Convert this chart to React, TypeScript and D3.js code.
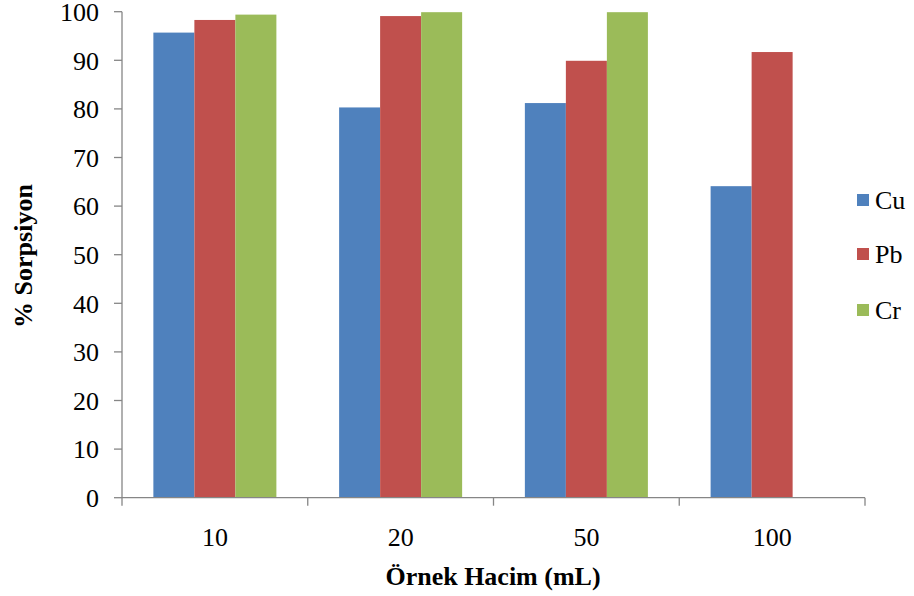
import React, { useEffect, useRef } from 'react';
import * as d3 from 'd3';

// chart data
const categories = ['10', '20', '50', '100'];
const seriesNames = ['Cu', 'Pb', 'Cr'];
const cuValues = [95.7, 80.3, 81.2, 64.1];
const pbValues = [98.3, 99.1, 89.9, 91.7];
const crValues = [99.4, 99.9, 99.9, null];
const yTicks = [0, 10, 20, 30, 40, 50, 60, 70, 80, 90, 100];
const colors = ['#4F81BD', '#C0504D', '#9BBB59'];

const FONT = 'Liberation Serif';

const App = () => {
  const svgRef = useRef<SVGSVGElement>(null);

  useEffect(() => {
    const svg = d3.select(svgRef.current);
    svg.selectAll('*').remove();

    const width = 914;
    const height = 596;
    const left = 122;
    const right = 865;
    const top = 11.7;
    const bottom = 497.7;
    const axisColor = '#868686';

    const series = [cuValues, pbValues, crValues];

    const x = d3.scaleBand().domain(categories).range([left, right]).paddingInner(0).paddingOuter(0);
    const xSub = d3
      .scaleBand()
      .domain(seriesNames)
      .range([0, x.bandwidth()])
      .paddingInner(0)
      .paddingOuter(0.765);
    const y = d3.scaleLinear().domain([0, 100]).range([bottom, top]);

    svg.attr('width', width).attr('height', height);

    // bars
    seriesNames.forEach((name, si) => {
      svg
        .append('g')
        .selectAll('rect')
        .data(categories.map((c, i) => ({ c, v: series[si][i] })).filter((d) => d.v != null))
        .join('rect')
        .attr('x', (d) => (x(d.c) as number) + (xSub(name) as number))
        .attr('y', (d) => y(d.v as number))
        .attr('width', xSub.bandwidth())
        .attr('height', (d) => bottom - y(d.v as number))
        .attr('fill', colors[si]);
    });

    // y axis
    const gy = svg.append('g');
    gy.append('line')
      .attr('x1', left).attr('x2', left)
      .attr('y1', top).attr('y2', bottom)
      .attr('stroke', axisColor).attr('stroke-width', 1.3);
    gy.selectAll('line.tick')
      .data(yTicks)
      .join('line')
      .attr('class', 'tick')
      .attr('x1', left - 8).attr('x2', left)
      .attr('y1', (d) => y(d)).attr('y2', (d) => y(d))
      .attr('stroke', axisColor).attr('stroke-width', 1.3);
    gy.selectAll('text')
      .data(yTicks)
      .join('text')
      .attr('x', left - 23)
      .attr('y', (d) => y(d))
      .attr('dy', '0.36em')
      .attr('text-anchor', 'end')
      .attr('font-family', FONT)
      .attr('font-size', 26)
      .attr('fill', '#000')
      .text((d) => d);

    // x axis
    const gx = svg.append('g');
    gx.append('line')
      .attr('x1', left).attr('x2', right)
      .attr('y1', bottom).attr('y2', bottom)
      .attr('stroke', axisColor).attr('stroke-width', 1.3);
    const xTickPos = categories.map((c) => x(c) as number).concat([right]);
    gx.selectAll('line.tick')
      .data(xTickPos)
      .join('line')
      .attr('class', 'tick')
      .attr('x1', (d) => d).attr('x2', (d) => d)
      .attr('y1', bottom).attr('y2', bottom + 8)
      .attr('stroke', axisColor).attr('stroke-width', 1.3);
    gx.selectAll('text')
      .data(categories)
      .join('text')
      .attr('x', (d) => (x(d) as number) + x.bandwidth() / 2)
      .attr('y', 546)
      .attr('text-anchor', 'middle')
      .attr('font-family', FONT)
      .attr('font-size', 26)
      .attr('fill', '#000')
      .text((d) => d);

    // axis titles
    svg.append('text')
      .attr('x', 493)
      .attr('y', 585)
      .attr('text-anchor', 'middle')
      .attr('font-family', FONT)
      .attr('font-weight', 'bold')
      .attr('font-size', 26)
      .text('Örnek Hacim (mL)');
    svg.append('text')
      .attr('transform', 'translate(32,256) rotate(-90)')
      .attr('text-anchor', 'middle')
      .attr('font-family', FONT)
      .attr('font-weight', 'bold')
      .attr('font-size', 26)
      .text('% Sorpsiyon');

    // legend
    const legendY = [200, 254, 310];
    const lg = svg.append('g');
    seriesNames.forEach((name, i) => {
      lg.append('rect')
        .attr('x', 857).attr('y', legendY[i] - 6)
        .attr('width', 12).attr('height', 12)
        .attr('fill', colors[i]);
      lg.append('text')
        .attr('x', 875).attr('y', legendY[i])
        .attr('dy', '0.36em')
        .attr('font-family', FONT)
        .attr('font-size', 26)
        .text(name);
    });
  }, []);

  return <svg ref={svgRef} style={{ position: 'absolute', left: 0, top: 0, display: 'block' }} />;
};

export default App;
